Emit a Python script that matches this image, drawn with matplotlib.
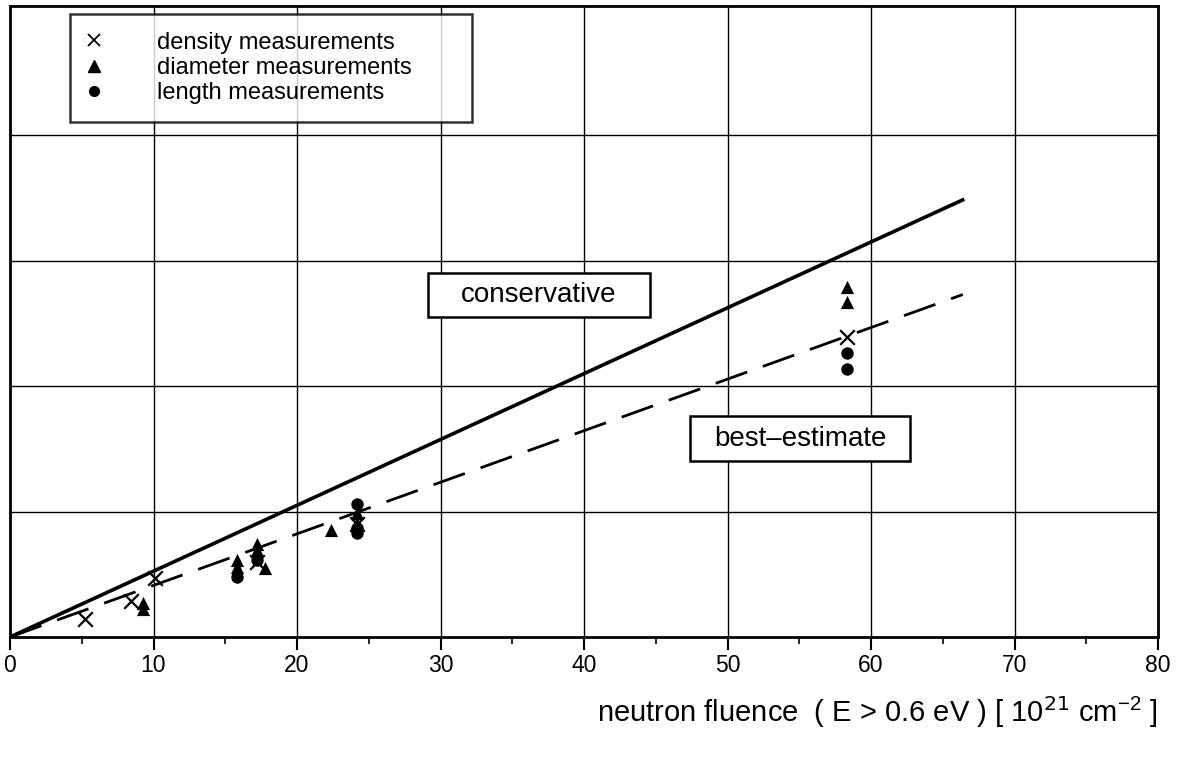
import matplotlib
matplotlib.use("Agg")
import matplotlib.pyplot as plt
from matplotlib.lines import Line2D
from matplotlib.patches import Rectangle
import numpy as np

plt.rcParams['font.family'] = ['Liberation Sans', 'DejaVu Sans']

# Fluence values (10^21 cm^-2) and relative dimensional change (grid units)
density_x = [5.2, 8.4, 10.1, 17.2, 24.2, 58.3]
density_y = [0.14, 0.29, 0.47, 0.60, 0.90, 2.39]

diameter_x = [9.3, 9.3, 15.8, 15.8, 17.2, 17.2, 17.8, 22.4, 24.2, 24.2, 58.3, 58.3]
diameter_y = [0.22, 0.27, 0.56, 0.61, 0.69, 0.74, 0.55, 0.85, 0.99, 0.91, 2.79, 2.67]

length_x = [15.8, 17.2, 24.2, 24.2, 24.2, 58.3, 58.3]
length_y = [0.48, 0.61, 1.06, 0.87, 0.83, 2.26, 2.14]

# Model curves
conservative_x = [0, 66.5]
conservative_y = [0, 3.49]
best_x = [0, 66.4]
best_y = [0, 2.73]

xticks = [0, 10, 20, 30, 40, 50, 60, 70, 80]

fig = plt.figure(figsize=(11.82, 7.61), dpi=100)
ax = fig.add_axes([10 / 1182, 124 / 761, 1148 / 1182, 631 / 761])

ax.set_xlim(0, 80)
ax.set_ylim(0, 5.03)

ax.set_xticks(xticks)
ax.set_xticks(np.arange(5, 80, 10), minor=True)
ax.set_yticks([1, 2, 3, 4])
ax.set_yticklabels([])
ax.tick_params(axis='y', length=0)
ax.tick_params(axis='x', which='major', length=9, width=1.5, direction='out',
               labelsize=16.5, pad=3)
ax.tick_params(axis='x', which='minor', length=5, width=1.2, direction='out')
ax.grid(True, which='major', color='black', linewidth=1.0)
for s in ax.spines.values():
    s.set_linewidth(2.0)
    s.set_color('black')

ax.plot(conservative_x, conservative_y, color='black', linewidth=2.6,
        solid_capstyle='butt', zorder=3)
ax.plot(best_x, best_y, color='black', linewidth=2.0,
        dashes=(12, 6), zorder=3)

ax.scatter(density_x, density_y, marker='x', s=110, color='black',
           linewidths=1.6, zorder=4)
ax.scatter(diameter_x, diameter_y, marker='^', s=90, color='black',
           linewidths=0, zorder=4)
ax.scatter(length_x, length_y, marker='o', s=80, color='black',
           linewidths=0, zorder=4)

# Labelled boxes for the two model curves
for (x0, x1, y0, y1), label in [((29.1, 44.6, 2.55, 2.90), 'conservative'),
                                ((47.4, 62.7, 1.40, 1.76), 'best\u2013estimate')]:
    ax.add_patch(Rectangle((x0, y0), x1 - x0, y1 - y0, facecolor='white',
                           edgecolor='black', linewidth=1.8, zorder=5))
    ax.text((x0 + x1) / 2, (y0 + y1) / 2, label, fontsize=20, ha='center',
            va='center', zorder=6)

handles = [
    Line2D([], [], marker='x', linestyle='none', color='black',
           markersize=8, markeredgewidth=1.3),
    Line2D([], [], marker='^', linestyle='none', color='black',
           markersize=8),
    Line2D([], [], marker='o', linestyle='none', color='black',
           markersize=7),
]
labels = ['density measurements', 'diameter measurements',
          'length measurements']
leg = ax.legend(handles, labels, loc='upper left', mode='expand',
                bbox_to_anchor=(60 / 1148, (637 - 14) / 631, 402 / 1148, 0),
                fontsize=17, frameon=True, fancybox=False, shadow=False,
                borderpad=0.75, labelspacing=0.14, handlelength=0.5,
                handletextpad=2.45, borderaxespad=0)
leg.get_frame().set_edgecolor('black')
leg.get_frame().set_linewidth(1.8)
leg.set_zorder(6)

fig.text(1157 / 1182, 1 - 712 / 761,
         r'neutron fluence  ( E > 0.6 eV ) [ 10$^{21}$ cm$^{\mathregular{-2}}$ ]',
         fontsize=21, ha='right', va='center')

fig.savefig('out.png', dpi=100)
